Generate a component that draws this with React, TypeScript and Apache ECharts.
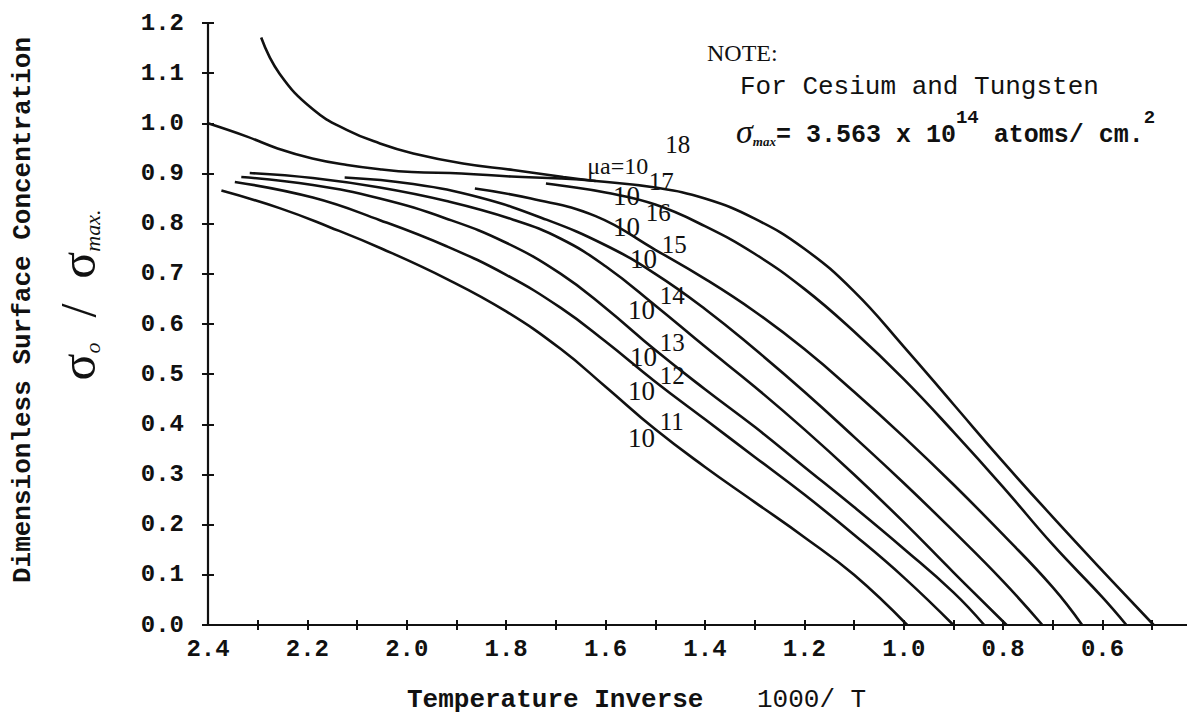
import { useEffect, useRef } from "react";
import * as echarts from "echarts";

// ---------- axis ticks / labels ----------
const xTickValues = [2.3, 2.2, 2.1, 2.0, 1.9, 1.8, 1.7, 1.6, 1.5, 1.4, 1.3, 1.2, 1.1, 1.0, 0.9, 0.8, 0.7, 0.6, 0.5];
const xLabelValues = [2.4, 2.2, 2.0, 1.8, 1.6, 1.4, 1.2, 1.0, 0.8, 0.6];

// ---------- curves: [1000/T, sigma0/sigmaMax] ----------
const curve18 = [
  [2.4, 1.0], [2.32, 0.973], [2.26, 0.95], [2.19, 0.93], [2.12, 0.917], [2.05, 0.908], [1.99, 0.903],
  [1.89, 0.9], [1.79, 0.894], [1.69, 0.89], [1.62, 0.885], [1.5, 0.872], [1.4, 0.85], [1.3, 0.81],
  [1.2, 0.75], [1.1, 0.665], [1.0, 0.555], [0.9, 0.44], [0.8, 0.325], [0.7, 0.215], [0.6, 0.108], [0.497, 0.0],
];
const branch18 = [
  [2.293, 1.171], [2.256, 1.099], [2.189, 1.028], [2.121, 0.987], [2.054, 0.96], [1.987, 0.94],
  [1.887, 0.92], [1.786, 0.907], [1.685, 0.893], [1.62, 0.885],
];
const curve17 = [
  [1.72, 0.88], [1.69, 0.876], [1.6, 0.862], [1.5, 0.838], [1.4, 0.795], [1.3, 0.74], [1.2, 0.67],
  [1.1, 0.585], [1.0, 0.49], [0.9, 0.385], [0.8, 0.275], [0.7, 0.16], [0.6, 0.055], [0.552, 0.0],
];
const curve16 = [
  [1.863, 0.87], [1.75, 0.85], [1.62, 0.815], [1.5, 0.748], [1.4, 0.69], [1.3, 0.625], [1.2, 0.55],
  [1.1, 0.465], [1.0, 0.375], [0.9, 0.28], [0.8, 0.18], [0.7, 0.075], [0.641, 0.0],
];
const curve15 = [
  [2.125, 0.892], [1.987, 0.879], [1.853, 0.852], [1.719, 0.808], [1.6, 0.757], [1.5, 0.7], [1.4, 0.63],
  [1.3, 0.55], [1.2, 0.465], [1.1, 0.375], [1.0, 0.283], [0.9, 0.187], [0.8, 0.087], [0.721, 0.0],
];
const curve14 = [
  [2.316, 0.901], [2.189, 0.891], [2.054, 0.872], [1.92, 0.845], [1.786, 0.808], [1.69, 0.77], [1.6, 0.715],
  [1.5, 0.637], [1.4, 0.555], [1.3, 0.475], [1.2, 0.39], [1.1, 0.3], [1.0, 0.205], [0.9, 0.105], [0.793, 0.0],
];
const curve13 = [
  [2.333, 0.893], [2.189, 0.877], [2.054, 0.85], [1.92, 0.81], [1.8, 0.762], [1.69, 0.7], [1.6, 0.632],
  [1.5, 0.548], [1.4, 0.47], [1.3, 0.395], [1.2, 0.315], [1.1, 0.235], [1.0, 0.152], [0.9, 0.065], [0.838, 0.0],
];
const curve12 = [
  [2.346, 0.883], [2.189, 0.852], [2.054, 0.807], [1.92, 0.755], [1.8, 0.698], [1.69, 0.632], [1.6, 0.565],
  [1.5, 0.485], [1.4, 0.41], [1.3, 0.335], [1.2, 0.26], [1.1, 0.18], [1.0, 0.095], [0.9, 0.0],
];
const curve11 = [
  [2.373, 0.866], [2.256, 0.831], [2.155, 0.793], [2.05, 0.75], [1.92, 0.69], [1.8, 0.625], [1.69, 0.55],
  [1.6, 0.475], [1.5, 0.39], [1.4, 0.315], [1.3, 0.245], [1.2, 0.175], [1.1, 0.1], [0.993, 0.0],
];

const seriesNames = ["10^18", "10^18 (upper)", "10^17", "10^16", "10^15", "10^14", "10^13", "10^12", "10^11"];
const seriesData = [curve18, branch18, curve17, curve16, curve15, curve14, curve13, curve12, curve11];

// curve labels: base text, exponent, anchor (data coords) of base and exponent
const labelBaseTexts = ["μa=10", "10", "10", "10", "10", "10", "10", "10"];
const labelExponents = ["18", "17", "16", "15", "14", "13", "12", "11"];
const labelBaseAnchors = [
  [1.637, 0.914], [1.585, 0.856], [1.585, 0.794], [1.551, 0.729],
  [1.555, 0.627], [1.551, 0.535], [1.555, 0.467], [1.555, 0.373],
];
const labelExpAnchors = [
  [1.48, 0.958], [1.513, 0.884], [1.519, 0.822], [1.487, 0.758],
  [1.491, 0.657], [1.491, 0.563], [1.491, 0.497], [1.491, 0.405],
];

const MONO = "'Liberation Mono', 'DejaVu Sans Mono', monospace";
const SERIF = "'Liberation Serif', 'DejaVu Serif', serif";

export default function App() {
  const ref = useRef<HTMLDivElement>(null);

  useEffect(() => {
    const chart = echarts.init(ref.current!, null, { renderer: "svg" });

    const axisLineStyle = { color: "#111", width: 2.2 };

    const option: any = {
      animation: false,
      backgroundColor: "#fff",
      grid: { left: 208, top: 23, width: 979, height: 602, containLabel: false },
      xAxis: [
        {
          type: "value",
          inverse: true,
          min: 0.43,
          max: 2.4,
          axisLine: { show: true, lineStyle: axisLineStyle },
          axisTick: { show: true, customValues: xTickValues, length: 5, lineStyle: { color: "#111", width: 2 } },
          axisLabel: {
            show: true,
            customValues: xLabelValues,
            formatter: (v: number) => v.toFixed(1),
            margin: 12,
            color: "#111",
            fontFamily: MONO,
            fontWeight: "bold",
            fontSize: 24,
          },
          splitLine: { show: false },
        },
        {
          type: "value",
          inverse: true,
          min: 0.43,
          max: 2.4,
          position: "bottom",
          axisLine: { show: false },
          axisTick: { show: true, inside: true, customValues: xTickValues, length: 5, lineStyle: { color: "#111", width: 2 } },
          axisLabel: { show: false },
          splitLine: { show: false },
        },
      ],
      yAxis: [
        {
          type: "value",
          min: 0,
          max: 1.2,
          interval: 0.1,
          axisLine: { show: true, lineStyle: axisLineStyle },
          axisTick: { show: true, length: 6, lineStyle: { color: "#111", width: 2 } },
          axisLabel: {
            formatter: (v: number) => v.toFixed(1),
            margin: 24,
            color: "#111",
            fontFamily: MONO,
            fontWeight: "bold",
            fontSize: 24,
          },
          splitLine: { show: false },
        },
        {
          type: "value",
          min: 0,
          max: 1.2,
          interval: 0.1,
          position: "left",
          axisLine: { show: false },
          axisTick: { show: true, inside: true, length: 6, lineStyle: { color: "#111", width: 2 } },
          axisLabel: { show: false },
          splitLine: { show: false },
        },
      ],
      series: seriesData.map((d, i) => ({
        name: seriesNames[i],
        type: "line",
        data: d,
        showSymbol: false,
        symbol: "none",
        smooth: 0.45,
        lineStyle: { color: "#111", width: 2.6 },
        z: 3,
      })),
    };

    chart.setOption(option);

    const graphics: any[] = [
      {
        type: "text",
        x: 23,
        y: 310,
        rotation: Math.PI / 2,
        style: {
          text: "Dimensionless Surface Concentration",
          fontFamily: MONO,
          fontWeight: "bold",
          fontSize: 26,
          fill: "#111",
          align: "center",
          verticalAlign: "middle",
        },
      },
      {
        type: "text",
        x: 78,
        y: 295,
        rotation: Math.PI / 2,
        style: {
          text: "{s|σ}{sub|o}{s|  /  }{s|σ}{sub|max.}",
          fill: "#111",
          align: "center",
          verticalAlign: "middle",
          rich: {
            s: { fontFamily: SERIF, fontSize: 50, fill: "#111", verticalAlign: "bottom", lineHeight: 50 },
            sub: { fontFamily: SERIF, fontSize: 22, fill: "#111", verticalAlign: "bottom", lineHeight: 38, fontStyle: "italic" },
          },
        },
      },
      {
        type: "text",
        x: 407,
        y: 700,
        style: {
          text: "Temperature Inverse",
          fontFamily: MONO,
          fontWeight: "bold",
          fontSize: 26,
          fill: "#111",
          align: "left",
          verticalAlign: "middle",
        },
      },
      {
        type: "text",
        x: 757,
        y: 700,
        style: {
          text: "1000/ T",
          fontFamily: MONO,
          fontSize: 26,
          fill: "#111",
          align: "left",
          verticalAlign: "middle",
        },
      },
      {
        type: "text",
        x: 707,
        y: 53,
        style: { text: "NOTE:", fontFamily: SERIF, fontSize: 24, fill: "#111", align: "left", verticalAlign: "middle" },
      },
      {
        type: "text",
        x: 740,
        y: 87,
        style: {
          text: "For Cesium and Tungsten",
          fontFamily: MONO,
          fontSize: 26,
          fill: "#111",
          align: "left",
          verticalAlign: "middle",
        },
      },
      {
        type: "text",
        x: 736,
        y: 128,
        style: {
          text: "{sg|σ}{sb|max}{t|= 3.563 x 10}{sp|14}{t| atoms/ cm.}{sp|2}",
          align: "left",
          verticalAlign: "middle",
          rich: {
            sg: { fontFamily: SERIF, fontStyle: "italic", fontSize: 34, fill: "#111", verticalAlign: "bottom", lineHeight: 36 },
            sb: { fontFamily: SERIF, fontStyle: "italic", fontWeight: "bold", fontSize: 13, fill: "#111", verticalAlign: "bottom", lineHeight: 22 },
            t: { fontFamily: MONO, fontWeight: "bold", fontSize: 25, fill: "#111", verticalAlign: "bottom", lineHeight: 30 },
            sp: { fontFamily: MONO, fontWeight: "bold", fontSize: 19, fill: "#111", verticalAlign: "top", lineHeight: 40 },
          },
        },
      },
    ];

    labelBaseTexts.forEach((t, i) => {
      const p1 = chart.convertToPixel({ xAxisIndex: 0, yAxisIndex: 0 } as any, labelBaseAnchors[i]) as number[];
      const p2 = chart.convertToPixel({ xAxisIndex: 0, yAxisIndex: 0 } as any, labelExpAnchors[i]) as number[];
      graphics.push({
        type: "text",
        x: p1[0],
        y: p1[1],
        z: 10,
        style: { text: t, fontFamily: SERIF, fontSize: i === 0 ? 24 : 27, fill: "#111", align: "left", verticalAlign: "middle" },
      });
      graphics.push({
        type: "text",
        x: p2[0],
        y: p2[1],
        z: 10,
        style: { text: labelExponents[i], fontFamily: SERIF, fontSize: 25, fill: "#111", align: "left", verticalAlign: "middle" },
      });
    });

    chart.setOption({ graphic: graphics });

    return () => chart.dispose();
  }, []);

  return (
    <div
      ref={ref}
      style={{ position: "fixed", left: 0, top: 0, width: 1187, height: 715, background: "#fff" }}
    />
  );
}
